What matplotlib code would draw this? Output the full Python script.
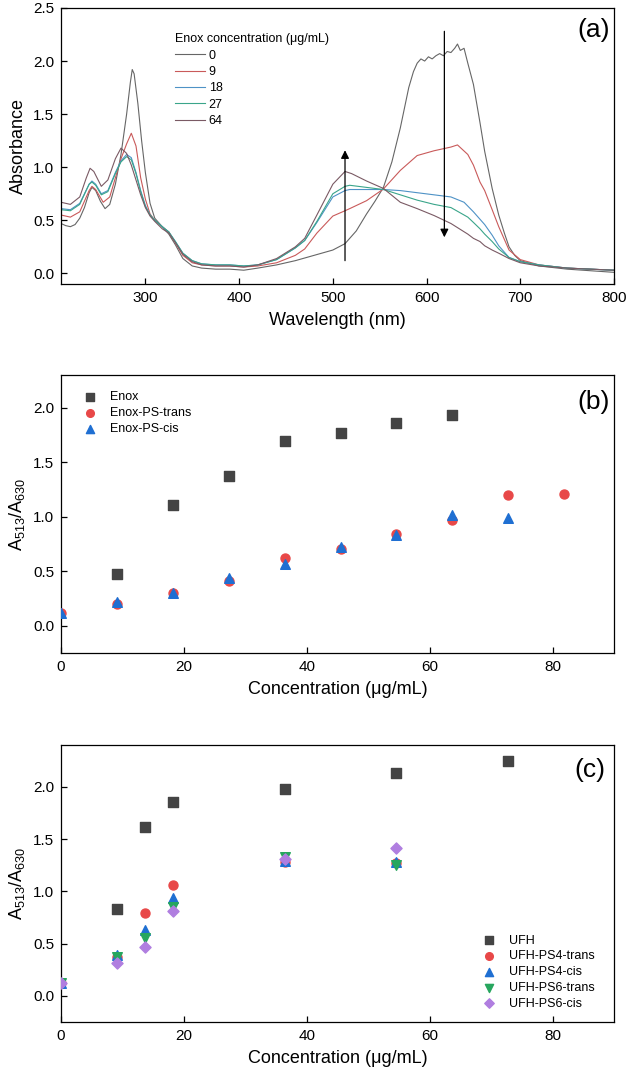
import matplotlib
matplotlib.use("Agg")
import matplotlib.pyplot as plt

plt.rcParams['font.family'] = ['Liberation Sans', 'DejaVu Sans']
plt.rcParams['mathtext.default'] = 'regular'

# ---------------- Panel (a) spectra ----------------
wl_0 = [210,215,220,225,230,235,240,243,247,252,257,262,268,274,280,284,286,288,292,296,300,305,310,318,325,332,340,350,360,375,390,405,420,440,460,480,500,513,525,536,545,554,563,572,581,586,590,594,598,602,606,610,614,618,622,626,630,633,636,640,644,650,657,662,670,677,683,688,694,700,720,750,800]
abs_0 = [0.47,0.45,0.44,0.46,0.52,0.62,0.76,0.81,0.78,0.68,0.61,0.65,0.84,1.12,1.50,1.80,1.92,1.88,1.60,1.25,0.95,0.66,0.52,0.44,0.37,0.27,0.14,0.07,0.05,0.04,0.04,0.03,0.05,0.08,0.12,0.17,0.22,0.28,0.40,0.56,0.68,0.81,1.05,1.37,1.75,1.90,1.98,2.02,2.00,2.04,2.02,2.05,2.07,2.05,2.09,2.08,2.12,2.16,2.10,2.12,1.98,1.78,1.42,1.15,0.80,0.55,0.38,0.25,0.17,0.12,0.07,0.04,0.01]

wl_9 = [210,220,230,240,243,247,255,262,268,274,280,285,290,295,300,305,310,318,325,332,340,350,360,375,390,405,420,440,460,470,483,500,513,518,536,554,572,590,608,626,633,644,650,657,662,670,677,688,700,720,750,800]
abs_9 = [0.55,0.53,0.58,0.78,0.82,0.79,0.67,0.72,0.90,1.08,1.22,1.32,1.20,0.90,0.70,0.56,0.50,0.44,0.39,0.29,0.17,0.10,0.08,0.07,0.07,0.06,0.07,0.10,0.17,0.23,0.38,0.54,0.59,0.61,0.685,0.795,0.97,1.11,1.155,1.19,1.21,1.12,1.02,0.86,0.78,0.60,0.44,0.22,0.13,0.08,0.05,0.03]

wl_18 = [210,220,230,240,243,247,253,260,268,274,280,285,290,295,300,305,310,318,325,332,340,350,360,375,390,405,420,440,460,470,483,500,513,518,536,554,572,590,608,626,640,650,657,662,670,677,688,700,720,750,800]
abs_18 = [0.61,0.60,0.66,0.84,0.87,0.84,0.75,0.78,0.95,1.06,1.12,1.09,0.95,0.78,0.64,0.55,0.50,0.44,0.39,0.30,0.19,0.12,0.09,0.08,0.08,0.07,0.08,0.13,0.24,0.31,0.48,0.72,0.78,0.79,0.79,0.79,0.78,0.76,0.74,0.72,0.67,0.58,0.51,0.46,0.36,0.26,0.15,0.11,0.08,0.05,0.03]

wl_27 = [210,220,230,240,243,247,253,260,268,274,280,285,290,295,300,305,310,318,325,332,340,350,360,375,390,405,420,440,460,470,483,500,513,518,536,554,572,590,608,626,644,650,657,662,670,677,688,700,720,750,800]
abs_27 = [0.60,0.59,0.65,0.84,0.86,0.83,0.74,0.77,0.94,1.05,1.10,1.07,0.94,0.77,0.63,0.55,0.50,0.44,0.39,0.30,0.19,0.12,0.09,0.08,0.08,0.07,0.08,0.13,0.24,0.31,0.49,0.75,0.82,0.83,0.81,0.79,0.74,0.69,0.65,0.62,0.53,0.48,0.42,0.37,0.30,0.23,0.15,0.11,0.08,0.05,0.03]

wl_64 = [210,220,230,237,241,245,253,260,268,274,280,285,290,295,300,305,310,318,325,332,340,350,360,375,390,405,420,440,460,470,483,500,513,520,536,554,572,590,608,626,644,650,657,662,670,677,688,700,720,750,800]
abs_64 = [0.67,0.65,0.72,0.90,0.99,0.96,0.82,0.88,1.08,1.18,1.13,1.02,0.88,0.74,0.62,0.54,0.49,0.42,0.38,0.29,0.18,0.11,0.08,0.07,0.07,0.06,0.08,0.14,0.25,0.33,0.55,0.84,0.96,0.94,0.87,0.80,0.67,0.61,0.545,0.47,0.37,0.33,0.30,0.26,0.22,0.19,0.14,0.10,0.07,0.05,0.03]

spec_labels = ['0', '9', '18', '27', '64']
spec_colors = ['#666666', '#c95a5a', '#4e92c6', '#3aa58a', '#7a5a64']

# ---------------- Panel (b) ----------------
enox_x = [9.1, 18.2, 27.3, 36.4, 45.5, 54.5, 63.6]
enox_y = [0.47, 1.11, 1.37, 1.69, 1.77, 1.86, 1.93]
enox_trans_x = [0, 9.1, 18.2, 27.3, 36.4, 45.5, 54.5, 63.6, 72.7, 81.8]
enox_trans_y = [0.12, 0.20, 0.30, 0.41, 0.62, 0.70, 0.845, 0.97, 1.20, 1.21]
enox_cis_x = [0, 9.1, 18.2, 27.3, 36.4, 45.5, 54.5, 63.6, 72.7]
enox_cis_y = [0.12, 0.22, 0.30, 0.44, 0.57, 0.72, 0.83, 1.02, 0.99]

# ---------------- Panel (c) ----------------
ufh_x = [9.1, 13.6, 18.2, 36.4, 54.5, 72.7]
ufh_y = [0.83, 1.62, 1.85, 1.98, 2.13, 2.25]
ps4t_x = [0, 9.1, 13.6, 18.2, 36.4, 54.5]
ps4t_y = [0.12, 0.37, 0.79, 1.06, 1.28, 1.27]
ps4c_x = [0, 9.1, 13.6, 18.2, 36.4, 54.5]
ps4c_y = [0.12, 0.39, 0.63, 0.94, 1.29, 1.28]
ps6t_x = [0, 9.1, 13.6, 18.2, 36.4, 54.5]
ps6t_y = [0.12, 0.37, 0.55, 0.85, 1.33, 1.25]
ps6c_x = [0, 9.1, 13.6, 18.2, 36.4, 54.5]
ps6c_y = [0.12, 0.31, 0.47, 0.81, 1.31, 1.41]

fig = plt.figure(figsize=(6.27, 10.75), dpi=100)

def style(ax):
    for s in ax.spines.values():
        s.set_linewidth(0.9)
    ax.tick_params(direction='in', length=4, width=0.9, labelsize=11,
                   top=False, right=False)
    ax.tick_params(axis='x', pad=5)
    ax.tick_params(axis='y', pad=5)

# ----- (a)
axa = fig.add_axes([0.0973, 0.7358, 0.882, 0.2568])
for w, a, lab, c in zip([wl_0, wl_9, wl_18, wl_27, wl_64],
                        [abs_0, abs_9, abs_18, abs_27, abs_64],
                        spec_labels, spec_colors):
    axa.plot(w, a, color=c, lw=0.8, label=lab)
axa.set_xlim(210, 800)
axa.set_ylim(-0.1, 2.5)
axa.set_xticks([300, 400, 500, 600, 700, 800])
axa.set_yticks([0.0, 0.5, 1.0, 1.5, 2.0, 2.5])
axa.set_yticklabels(['0.0', '0.5', '1.0', '1.5', '2.0', '2.5'])
axa.set_xlabel('Wavelength (nm)', fontsize=13, labelpad=5)
axa.set_ylabel('Absorbance', fontsize=13, labelpad=4)
style(axa)
axa.annotate('', xy=(513, 1.16), xytext=(513, 0.12),
             arrowprops=dict(arrowstyle='-|>', color='black', lw=0.9,
                             mutation_scale=12, shrinkA=0, shrinkB=0))
axa.annotate('', xy=(619, 0.34), xytext=(619, 2.28),
             arrowprops=dict(arrowstyle='-|>', color='black', lw=0.9,
                             mutation_scale=12, shrinkA=0, shrinkB=0))
leg = axa.legend(title='Enox concentration (μg/mL)', loc='upper left',
                 bbox_to_anchor=(0.19, 0.94), frameon=False, fontsize=9,
                 title_fontsize=9, handlelength=2.4, handletextpad=0.3,
                 labelspacing=0.35, borderpad=0.2)
leg._legend_box.align = 'left'
axa.text(0.993, 0.92, '(a)', transform=axa.transAxes, ha='right', va='center', fontsize=19)

# ----- (b)
axb = fig.add_axes([0.0973, 0.3926, 0.882, 0.2586])
ms = 42
axb.scatter(enox_x, enox_y, marker='s', s=ms, color='#444444', label='Enox', zorder=3)
axb.scatter(enox_trans_x, enox_trans_y, marker='o', s=ms, color='#e84848', label='Enox-PS-trans', zorder=3)
axb.scatter(enox_cis_x, enox_cis_y, marker='^', s=ms + 6, color='#1f6fd2', label='Enox-PS-cis', zorder=4)
axb.set_xlim(0, 90)
axb.set_ylim(-0.25, 2.3)
axb.set_xticks([0, 20, 40, 60, 80])
axb.set_yticks([0.0, 0.5, 1.0, 1.5, 2.0])
axb.set_yticklabels(['0.0', '0.5', '1.0', '1.5', '2.0'])
axb.set_xlabel('Concentration (μg/mL)', fontsize=13, labelpad=5)
axb.set_ylabel('$A_{513}/A_{630}$', fontsize=13, labelpad=4)
style(axb)
axb.legend(loc='upper left', frameon=False, fontsize=9, handletextpad=0.6,
           labelspacing=0.3, borderpad=0.6, markerscale=0.85,
           bbox_to_anchor=(0.005, 0.99))
axb.text(0.993, 0.903, '(b)', transform=axb.transAxes, ha='right', va='center', fontsize=19)

# ----- (c)
axc = fig.add_axes([0.0973, 0.0493, 0.882, 0.2577])
axc.scatter(ufh_x, ufh_y, marker='s', s=ms, color='#444444', label='UFH', zorder=3)
axc.scatter(ps4t_x, ps4t_y, marker='o', s=ms, color='#e84848', label='UFH-PS4-trans', zorder=3)
axc.scatter(ps4c_x, ps4c_y, marker='^', s=ms + 6, color='#1f6fd2', label='UFH-PS4-cis', zorder=4)
axc.scatter(ps6t_x, ps6t_y, marker='v', s=ms + 6, color='#27a65e', label='UFH-PS6-trans', zorder=5)
axc.scatter(ps6c_x, ps6c_y, marker='D', s=ms - 10, color='#b07ee0', label='UFH-PS6-cis', zorder=6)
axc.set_xlim(0, 90)
axc.set_ylim(-0.25, 2.4)
axc.set_xticks([0, 20, 40, 60, 80])
axc.set_yticks([0.0, 0.5, 1.0, 1.5, 2.0])
axc.set_yticklabels(['0.0', '0.5', '1.0', '1.5', '2.0'])
axc.set_xlabel('Concentration (μg/mL)', fontsize=13, labelpad=5)
axc.set_ylabel('$A_{513}/A_{630}$', fontsize=13, labelpad=4)
style(axc)
axc.legend(loc='lower right', frameon=False, fontsize=9, handletextpad=0.6,
           labelspacing=0.3, borderpad=0.6, markerscale=0.85,
           bbox_to_anchor=(0.99, -0.005))
axc.text(0.985, 0.91, '(c)', transform=axc.transAxes, ha='right', va='center', fontsize=19)

fig.savefig('out.png', dpi=100)
